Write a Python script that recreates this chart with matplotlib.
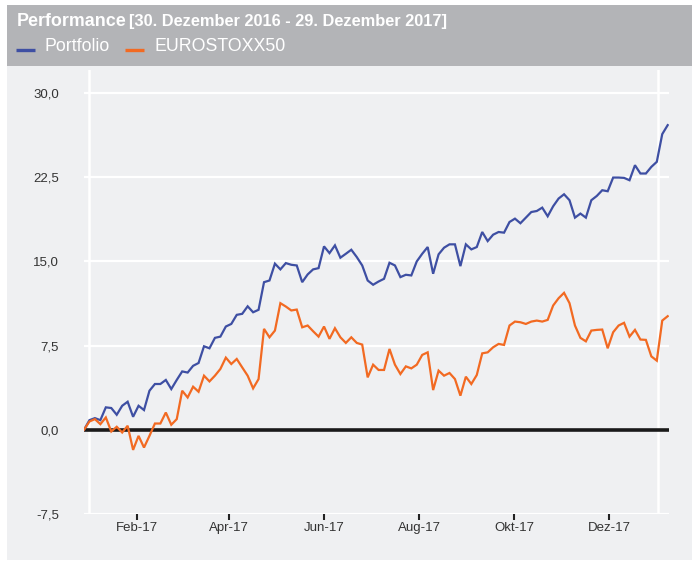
import matplotlib
matplotlib.use('Agg')
import matplotlib.pyplot as plt
from matplotlib.patches import Rectangle
from matplotlib.lines import Line2D
import pandas as pd

plt.rcParams['font.family'] = ['Liberation Sans', 'DejaVu Sans']

# ---- data (performance in %) ----
portfolio = [0.0, 0.86, 1.04, 0.86, 2.0, 1.94, 1.34, 2.14, 2.5, 1.16,
             2.14, 1.76, 3.48, 4.08, 4.08, 4.44, 3.63, 4.44, 5.2, 5.1,
             5.7, 5.95, 7.44, 7.26, 8.19, 8.3, 9.2, 9.43, 10.24, 10.33,
             11.0, 10.47, 10.69, 13.15, 13.3, 14.8, 14.29, 14.85, 14.7, 14.64,
             13.15, 13.84, 14.29, 14.4, 16.34, 15.74, 16.43, 15.33, 15.68, 16.04,
             15.39, 14.64, 13.3, 12.92, 13.21, 13.45, 14.88, 14.64, 13.6, 13.81,
             13.75, 15.0, 15.68, 16.28, 13.9, 15.63, 16.22, 16.52, 16.52, 14.58,
             16.52, 16.07, 16.28, 17.62, 16.81, 17.38, 17.62, 17.56, 18.51, 18.81,
             18.4, 18.9, 19.4, 19.49, 19.79, 19.02, 19.91, 20.6, 20.98, 20.45,
             18.9, 19.26, 18.9, 20.45, 20.83, 21.34, 21.25, 22.47, 22.47, 22.44,
             22.23, 23.57, 22.83, 22.83, 23.42, 23.87, 26.34, 27.14]
eurostoxx = [0.0, 0.74, 0.95, 0.5, 1.1, -0.15, 0.27, -0.24, 0.36, -1.79,
             -0.54, -1.58, -0.54, 0.56, 0.56, 1.54, 0.45, 0.95, 3.48, 2.88,
             3.84, 3.39, 4.82, 4.31, 4.82, 5.42, 6.43, 5.86, 6.31, 5.56,
             4.82, 3.69, 4.52, 8.99, 8.24, 8.84, 11.28, 10.98, 10.63, 10.71,
             9.13, 9.29, 8.78, 8.3, 9.2, 8.1, 9.05, 8.24, 7.74, 8.24,
             7.74, 7.59, 4.67, 5.8, 5.33, 5.33, 7.2, 5.8, 4.97, 5.65,
             5.47, 5.8, 6.67, 6.9, 3.54, 5.27, 4.82, 5.06, 4.52, 3.04,
             4.73, 4.08, 4.88, 6.81, 6.9, 7.35, 7.65, 7.56, 9.29, 9.64,
             9.58, 9.43, 9.64, 9.73, 9.64, 9.79, 11.07, 11.72, 12.2, 11.28,
             9.29, 8.19, 7.88, 8.84, 8.9, 8.93, 7.26, 8.69, 9.29, 9.53,
             8.3, 8.9, 8.04, 8.01, 6.54, 6.16, 9.73, 10.12]
series_names = ['Portfolio', 'EUROSTOXX50']
series_colors = ['#3E4FA3', '#F26A22']
start_date = '2016-12-29'
x_tick_dates = ['2017-02-01', '2017-04-01', '2017-06-01', '2017-08-01', '2017-10-01', '2017-12-01']
x_tick_labels = ['Feb-17', 'Apr-17', 'Jun-17', 'Aug-17', 'Okt-17', 'Dez-17']
y_ticks = [-7.5, 0.0, 7.5, 15.0, 22.5, 30.0]
year_lines = ['2017-01-01', '2018-01-01']
title_main = 'Performance'
title_range = '[30. Dezember 2016 - 29. Dezember 2017]'

dates = pd.date_range(start_date, periods=len(portfolio), freq='84h')

W, H = 692, 562
fig = plt.figure(figsize=(W / 100, H / 100), dpi=100)
fig.patch.set_facecolor('white')


def frect(x0, y0, x1, y1, color):
    fig.add_artist(Rectangle((x0 / W, 1 - y1 / H), (x1 - x0) / W, (y1 - y0) / H,
                             transform=fig.transFigure, facecolor=color,
                             edgecolor='none', zorder=0))


frect(7, 66, 692, 560, '#EFF0F2')
frect(7, 5, 692, 66, '#B3B4B7')

ax = fig.add_axes([84 / W, 1 - 514 / H, (669 - 84) / W, (514 - 70) / H])
ax.set_facecolor('none')
for s in ax.spines.values():
    s.set_visible(False)

for yv in y_ticks:
    if yv != 0:
        ax.axhline(yv, color='white', lw=1.6, zorder=1)
for d in pd.to_datetime(year_lines):
    ax.axvline(d, color='white', lw=1.8, zorder=1)
ax.axhline(0, color='#1a1a1a', lw=2.6, zorder=2)

ax.plot(dates, portfolio, color=series_colors[0], lw=1.6, zorder=3,
        solid_joinstyle='miter')
ax.plot(dates, eurostoxx, color=series_colors[1], lw=1.6, zorder=3,
        solid_joinstyle='miter')

ax.set_xlim(dates[0], dates[-1] + pd.Timedelta(hours=20))
ax.set_ylim(-7.5, 32.05)

ax.set_yticks(y_ticks)
ax.set_yticklabels([f'{v:.1f}'.replace('.', ',') for v in y_ticks])
ax.tick_params(axis='y', length=0, pad=18, labelsize=9.5, labelcolor='#333333')
ax.set_xticks(pd.to_datetime(x_tick_dates))
ax.set_xticklabels(x_tick_labels)
ax.tick_params(axis='x', direction='out', length=4.5, width=1.5, color='#222222',
               pad=1.5, labelsize=9.5, labelcolor='#333333')

# header texts
t1 = fig.text(16.5 / W, 1 - 26 / H, title_main, color='white', fontsize=12.9,
              fontweight='bold', va='baseline', ha='left')
fig.canvas.draw()
r = fig.canvas.get_renderer()
bb = t1.get_window_extent(r)
fig.text((bb.x1 + 3) / W, 1 - 26 / H, title_range, color='white', fontsize=11.75,
         fontweight='bold', va='baseline', ha='left')

# legend
leg_x = [(16, 35, 44), (125, 144, 154)]
for (xa, xb, xt), name, col in zip(leg_x, series_names, series_colors):
    fig.add_artist(Line2D([xa / W, xb / W], [1 - 49.5 / H, 1 - 49.5 / H],
                          transform=fig.transFigure, color=col, lw=2.4,
                          solid_capstyle='butt'))
    fig.text(xt / W, 1 - 51 / H, name, color='white', fontsize=12.8,
             va='baseline', ha='left')

fig.savefig('out.png', dpi=100, facecolor='white')
